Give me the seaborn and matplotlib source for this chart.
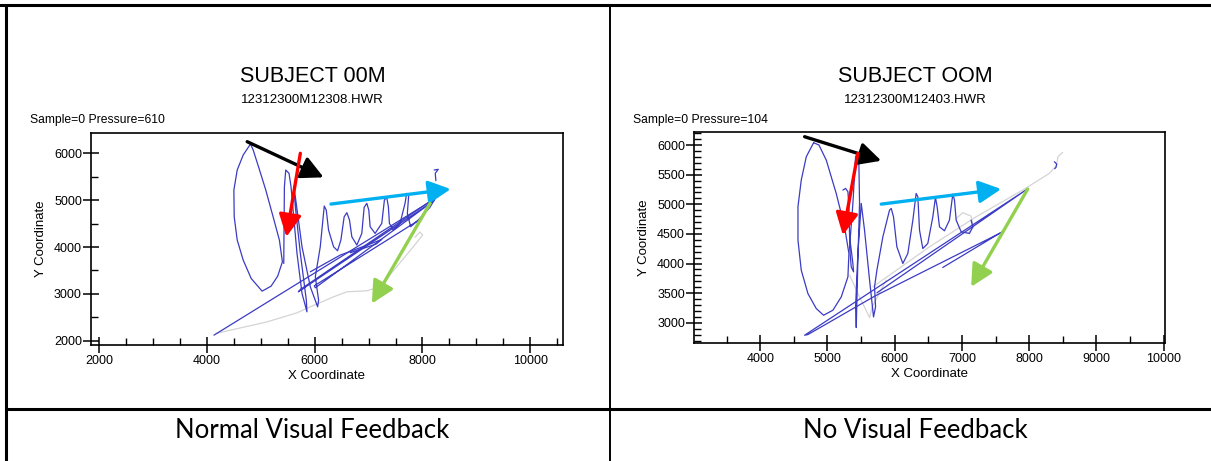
import numpy as np
import pandas as pd
import matplotlib
matplotlib.use("Agg")
import matplotlib.pyplot as plt
from matplotlib.ticker import MultipleLocator
from matplotlib.lines import Line2D
import seaborn as sns

# ---------------- data : left panel (normal visual feedback) ----------------
left_title = "SUBJECT 00M"
left_file = "12312300M12308.HWR"
left_info = "Sample=0 Pressure=610"
left_caption = "Normal Visual Feedback"

L_oval_x = [4808, 4672, 4561, 4499, 4505, 4561, 4672, 4820, 5023, 5190, 5313, 5400, 5344, 5227, 5091, 4956, 4857, 4808]
L_oval_y = [6199, 5964, 5644, 5217, 4647, 4149, 3722, 3330, 3059, 3166, 3380, 3686, 4149, 4647, 5217, 5715, 6071, 6199]
L_loops_x = [5425, 5437, 5462, 5523, 5560, 5671, 5764, 5856, 5844, 5733, 5640, 5610, 5640, 5764, 5918, 6054, 6072, 6011,
             6103, 6177, 6214, 6257, 6350, 6424, 6486, 6547, 6597, 6646, 6689, 6782, 6874, 6918, 6967, 7004, 7029, 7121,
             7245, 7294, 7337, 7368, 7387, 7461, 7584, 7677, 7707, 7744, 7720, 7781, 7923, 8139, 8250, 5733, 5696, 8213,
             6011, 5992, 7967]
L_loops_y = [3650, 5288, 5644, 5573, 5288, 3864, 3010, 2618, 2867, 3864, 4861, 5288, 5074, 4006, 3152, 2725, 2867, 3366,
             4006, 4875, 4790, 4362, 4006, 3921, 4149, 4647, 4733, 4576, 4220, 4042, 4291, 4847, 4932, 4790, 4434, 4291,
             4505, 5003, 5060, 4861, 4505, 4362, 4505, 4932, 5146, 5089, 4718, 4434, 4576, 4847, 5060, 3095, 3045, 4989,
             3131, 3173, 4597]
L_long_x = [4129, 8232]
L_long_y = [2120, 5032]
L_swoosh_x = [5918, 6473, 7090, 7245, 7140, 6659]
L_swoosh_y = [3472, 3828, 4092, 4163, 4063, 3878]
L_hook_x = [8219, 8294, 8238, 8250]
L_hook_y = [5644, 5658, 5573, 5416]
L_up_x = [4160, 5116, 5671, 5918, 6350, 6597, 6967, 7214, 7522, 7831, 8004, 7954, 7862]
L_up_y = [2155, 2404, 2597, 2725, 2938, 3045, 3067, 3152, 3579, 4006, 4256, 4320, 4206]

L_arrow_start_x = [4746, 5733, 6302, 8141]
L_arrow_start_y = [6248, 6000, 4917, 4932]
L_arrow_end_x = [6165, 5474, 8525, 7061]
L_arrow_end_y = [5487, 4218, 5237, 2795]

# ---------------- data : right panel (no visual feedback) ----------------
right_title = "SUBJECT OOM"
right_file = "12312300M12403.HWR"
right_info = "Sample=0 Pressure=104"
right_caption = "No Visual Feedback"

R_oval_x = [4794, 4685, 4610, 4561, 4561, 4610, 4709, 4833, 4942, 5081, 5205, 5304, 5319, 5254, 5130, 4982, 4873, 4794]
R_oval_y = [6039, 5803, 5409, 4958, 4395, 3888, 3494, 3241, 3128, 3213, 3438, 3776, 4170, 4620, 5183, 5746, 6000, 6039]
R_loops_x = [5229, 5269, 5304, 5319, 5329, 5378, 5388, 5353, 5329, 5378, 5418, 5452, 5467, 5477, 5452, 5428, 5418, 5452,
             5502, 5551, 5626, 5685, 5715, 5700, 5735, 5824, 5923, 5948, 5982, 6032, 6121, 6195, 6270, 6319, 6344, 6369,
             6418, 6492, 6567, 6606, 6631, 6666, 6740, 6814, 6864, 6889, 6914, 6988, 7112, 7161, 7136]
R_loops_y = [5240, 5268, 5212, 4958, 4452, 4001, 3860, 3945, 4283, 5015, 5803, 5859, 5690, 5015, 4057, 2920, 3269, 4170,
             5015, 4564, 3720, 3100, 3269, 3607, 3888, 4452, 4902, 4930, 4789, 4283, 4001, 4170, 4733, 5183, 5127, 4564,
             4254, 4339, 4789, 5116, 4958, 4620, 4553, 4733, 5172, 5071, 4733, 4536, 4508, 4620, 4733]
R_diag_x = [5735, 7964, 4660, 4709, 5700, 7607, 7557, 6715]
R_diag_y = [3506, 5251, 2791, 2802, 3449, 4536, 4508, 3934]
R_hook_x = [8375, 8409, 8399, 8380]
R_hook_y = [5718, 5679, 5623, 5600]
R_up1_x = [5329, 5477, 5626, 5665, 5873]
R_up1_y = [3804, 3438, 3089, 3269, 3720]
R_up2_x = [5675, 6517, 7211, 7904, 8300, 8409, 8429, 8498]
R_up2_y = [3607, 4283, 4789, 5240, 5521, 5662, 5803, 5876]
R_up3_x = [6914, 7013, 7136, 7171, 7087]
R_up3_y = [4761, 4857, 4801, 4609, 4508]

R_arrow_start_x = [4660, 5452, 5800, 7978]
R_arrow_start_y = [6140, 5860, 5003, 5257]
R_arrow_end_x = [5800, 5229, 7583, 7137]
R_arrow_end_y = [5735, 4480, 5257, 3607]

arrow_colors = ["#000000", "#ff0000", "#00b0f0", "#92d050"]
PEN_DOWN = "#3b3bc4"
PEN_UP = "#d4d4d4"


def strokes_frame(strokes):
    rows = []
    for sid, (kind, xs, ys) in enumerate(strokes):
        for x, y in zip(xs, ys):
            rows.append((sid, kind, x, y))
    return pd.DataFrame(rows, columns=["stroke", "kind", "x", "y"])


left_df = strokes_frame([
    ("up", L_up_x, L_up_y),
    ("down", L_oval_x, L_oval_y),
    ("down", L_loops_x, L_loops_y),
    ("down", L_long_x, L_long_y),
    ("down", L_swoosh_x, L_swoosh_y),
    ("down", L_hook_x, L_hook_y),
])
right_df = strokes_frame([
    ("up", R_up1_x, R_up1_y),
    ("up", R_up2_x, R_up2_y),
    ("up", R_up3_x, R_up3_y),
    ("down", R_oval_x, R_oval_y),
    ("down", R_loops_x, R_loops_y),
    ("down", R_diag_x, R_diag_y),
    ("down", R_hook_x, R_hook_y),
])

sns.set_style("ticks")
plt.rcParams["font.family"] = ["Liberation Sans", "DejaVu Sans"]
plt.rcParams["text.color"] = "black"
plt.rcParams["axes.labelcolor"] = "black"
plt.rcParams["xtick.color"] = "black"
plt.rcParams["ytick.color"] = "black"

fig = plt.figure(figsize=(12.11, 4.61), dpi=100)
fig.patch.set_facecolor("white")

ax_l = fig.add_axes([0.0751, 0.2516, 0.3898, 0.4606])
ax_r = fig.add_axes([0.5731, 0.2560, 0.3889, 0.4577])


def draw_panel(ax, df, sx, sy, ex, ey):
    sns.lineplot(data=df, x="x", y="y", units="stroke", estimator=None, sort=False,
                 hue="kind", hue_order=["up", "down"],
                 palette={"up": PEN_UP, "down": PEN_DOWN},
                 legend=False, linewidth=0.9, ax=ax)
    for x0, y0, x1, y1, c in zip(sx, sy, ex, ey, arrow_colors):
        ax.annotate("", xy=(x1, y1), xytext=(x0, y0),
                    arrowprops=dict(arrowstyle="-|>,head_length=0.75,head_width=0.38",
                                    color=c, lw=2.4, shrinkA=0, shrinkB=0,
                                    mutation_scale=18),
                    annotation_clip=False)
    for s in ax.spines.values():
        s.set_visible(True)
        s.set_color("black")
        s.set_linewidth(1.2)
    ax.set_facecolor("white")
    ax.tick_params(which="both", bottom=True, left=True, top=False, right=False)
    ax.tick_params(which="major", direction="inout", length=11, width=1.1,
                   labelsize=9, color="black", labelcolor="black")
    ax.tick_params(which="minor", direction="in", length=5, width=1.0, color="black")
    ax.tick_params(axis="y", which="major", pad=1)
    ax.tick_params(axis="x", which="major", pad=2)
    ax.set_xlabel("X Coordinate", fontsize=9.5, labelpad=2, color="black")
    ax.set_ylabel("Y Coordinate", fontsize=9.5, labelpad=5, color="black")


draw_panel(ax_l, left_df, L_arrow_start_x, L_arrow_start_y, L_arrow_end_x, L_arrow_end_y)
ax_l.set_xlim(1845, 10610)
ax_l.set_ylim(1910, 6440)
ax_l.xaxis.set_major_locator(MultipleLocator(2000))
ax_l.xaxis.set_minor_locator(MultipleLocator(500))
ax_l.yaxis.set_major_locator(MultipleLocator(1000))
ax_l.yaxis.set_minor_locator(MultipleLocator(500))

draw_panel(ax_r, right_df, R_arrow_start_x, R_arrow_start_y, R_arrow_end_x, R_arrow_end_y)
ax_r.set_xlim(3015, 10020)
ax_r.set_ylim(2660, 6220)
ax_r.xaxis.set_major_locator(MultipleLocator(1000))
ax_r.xaxis.set_minor_locator(MultipleLocator(500))
ax_r.yaxis.set_major_locator(MultipleLocator(500))
ax_r.yaxis.set_minor_locator(MultipleLocator(100))

# titles and captions
for cx, sx, title, fname, info, caption in [
    (0.258, 0.0248, left_title, left_file, left_info, left_caption),
    (0.756, 0.5225, right_title, right_file, right_info, right_caption),
]:
    fig.text(cx, 0.8215, title, ha="center", va="baseline", fontsize=15.5, color="black")
    fig.text(cx, 0.776, fname, ha="center", va="baseline", fontsize=9.5, color="black")
    fig.text(sx, 0.734, info, ha="left", va="baseline", fontsize=8.7, color="black")
    fig.text(cx, 0.05, caption, ha="center", va="baseline", fontsize=18.5, color="black",
             family=["Lato", "DejaVu Sans"])

# table borders
for (xs, ys, lw) in [
    ([0.0, 1.0], [0.989, 0.989], 2.2),
    ([0.005, 0.005], [0.0, 0.989], 2.2),
    ([0.5037, 0.5037], [0.0, 0.989], 1.4),
    ([0.005, 1.0], [0.1128, 0.1128], 2.2),
]:
    fig.add_artist(Line2D(xs, ys, transform=fig.transFigure, color="black", lw=lw))

fig.savefig("out.png", dpi=100, facecolor="white")
